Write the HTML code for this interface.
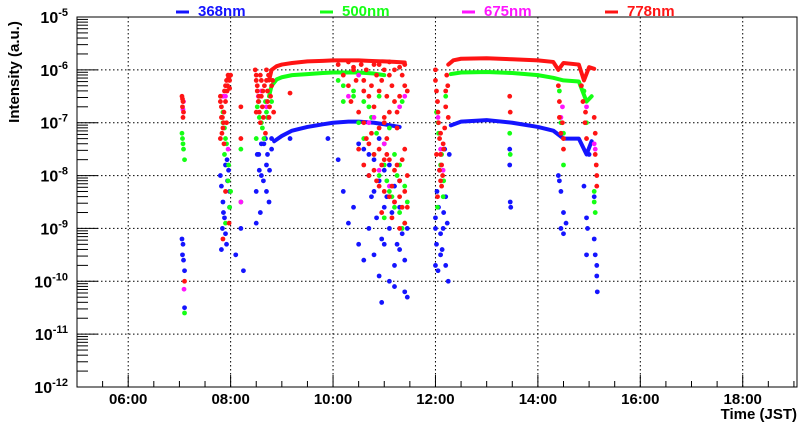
<!DOCTYPE html>
<html><head><meta charset="utf-8"><style>
html,body{margin:0;padding:0;background:#fff;}
svg{display:block;font-family:"Liberation Sans",Arial,sans-serif;font-weight:bold;}
</style></head><body>
<svg id="chart" width="800" height="427" viewBox="0 0 800 427" xmlns="http://www.w3.org/2000/svg">
<g id="grid"></g>
<g id="data"></g>
<g id="axes"></g>
<g id="legend"></g>
<text x="0" y="0" transform="translate(19,72) rotate(-90)" text-anchor="middle" font-size="15">Intensity (a.u.)</text>
<text x="797" y="419" text-anchor="end" font-size="15">Time (JST)</text>
</svg>
<script>
// x tick labels (hours) and y decades
const xTickHours=[6,8,10,12,14,16,18];
const xTickLabels=["06:00","08:00","10:00","12:00","14:00","16:00","18:00"];
const yDecades=[-12,-11,-10,-9,-8,-7,-6,-5];
// Continuous envelope curves (time in hours, log10 intensity)
const redCurveT1=[8.75,8.8,8.9,9.0,9.2,9.5,9.8,10.0,10.3,10.5,10.7,11.0,11.2,11.4];
const redCurveV1=[-6.2,-6.0,-5.93,-5.9,-5.87,-5.84,-5.83,-5.82,-5.82,-5.82,-5.83,-5.84,-5.85,-5.86];
const greenCurveT1=[8.75,8.8,8.9,9.0,9.2,9.5,9.8,10.0,10.3,10.5,10.8,11.0];
const greenCurveV1=[-6.5,-6.3,-6.18,-6.14,-6.1,-6.08,-6.06,-6.05,-6.05,-6.05,-6.07,-6.1];
const blueCurveT1=[8.85,9.0,9.2,9.5,9.8,10.0,10.3,10.5,10.8,11.0,11.3];
const blueCurveV1=[-7.35,-7.25,-7.15,-7.08,-7.03,-7.0,-6.98,-6.98,-7.0,-7.03,-7.08];
const redCurveT2=[12.25,12.35,12.5,13.0,13.5,14.0,14.3,14.4,14.5,14.8,14.9,15.0,15.1];
const redCurveV2=[-5.9,-5.82,-5.79,-5.78,-5.8,-5.82,-5.85,-6.0,-5.87,-5.9,-6.2,-5.95,-5.98];
const greenCurveT2=[12.3,12.5,13.0,13.5,14.0,14.3,14.5,14.8,14.95,15.05];
const greenCurveV2=[-6.08,-6.05,-6.04,-6.06,-6.1,-6.15,-6.2,-6.22,-6.6,-6.5];
const blueCurveT2=[12.3,12.5,13.0,13.5,14.0,14.3,14.5,14.8,14.95,15.05];
const blueCurveV2=[-7.05,-6.98,-6.95,-7.0,-7.08,-7.15,-7.3,-7.3,-7.6,-7.35];
// Scatter points
const redT=[7.05,7.07,7.06,7.08,7.07,7.06,7.1,7.8,7.82,7.85,7.8,7.9,7.95,7.93,7.98,7.87,7.92,7.9,7.85,7.97,8.2,8.2,8.5,8.52,8.55,8.5,8.58,8.6,8.63,8.7,8.72,8.75,8.8,8.68,9.16,10.1,10.2,10.3,10.35,10.4,10.5,10.6,10.7,10.8,10.9,11.0,11.1,11.2,11.3,11.4,10.5,10.6,10.7,10.8,10.9,11.0,11.1,11.2,11.3,11.4,11.35,10.95,11.15,10.75,11.05,11.25,10.65,11.45,12.0,12.05,12.1,12.02,12.15,12.2,12.08,12.25,12.12,13.45,13.46,14.42,14.45,14.5,14.93,14.95,15.1,15.12,15.15];
const redV=[-6.5,-6.6,-6.7,-6.8,-6.9,-6.55,-10.0,-6.6,-6.9,-7.1,-7.3,-6.3,-6.1,-6.4,-6.2,-6.8,-7.0,-8.3,-9.2,-8.9,-6.7,-7.3,-6.1,-6.3,-6.5,-6.8,-7.0,-6.2,-6.4,-6.0,-6.6,-6.9,-6.3,-7.2,-6.44,-5.9,-6.1,-6.3,-6.6,-5.95,-6.8,-6.2,-6.5,-5.9,-6.4,-6.9,-6.1,-6.6,-5.95,-6.3,-7.5,-7.8,-8.0,-7.6,-8.2,-7.7,-8.4,-7.9,-8.1,-7.5,-8.6,-8.7,-8.8,-7.2,-7.3,-7.1,-7.3,-8.0,-6.2,-6.8,-7.2,-7.6,-7.4,-6.4,-7.9,-6.9,-8.2,-6.5,-6.8,-6.6,-7.2,-7.5,-6.8,-7.3,-6.9,-7.6,-8.0];
const redT2=[7.8,7.82,7.84,7.86,7.88,7.9,7.92,7.94,7.96,7.98,8.0,7.83,7.87,8.48,8.5,8.52,8.54,8.56,8.58,8.6,8.62,8.64,8.66,8.7,8.72,8.74,8.76,8.78,8.82,8.84,10.3,10.4,10.45,10.55,10.6,10.65,10.75,10.8,10.85,10.9,10.95,11.0,11.05,11.1,11.15,11.2,11.25,11.3,11.35,11.4,11.45,10.6,10.7,10.8,10.85,10.9,10.95,11.0,11.05,11.1,11.15,11.2,11.25,11.3,11.35,11.4,11.45,11.0,11.1,10.9,11.3,11.4,12.0,12.02,12.04,12.06,12.08,12.1,12.12,12.14,12.16,12.18,12.2,12.22,12.24,12.04,12.1,14.4,14.42,14.48,14.5,14.85,14.88,14.92,15.12,15.15,15.14];
const redV2=[-6.5,-6.7,-6.9,-7.0,-6.4,-6.6,-6.2,-6.3,-6.15,-6.35,-6.1,-7.2,-7.4,-6.0,-6.2,-6.4,-6.6,-6.8,-6.1,-6.5,-6.7,-6.9,-6.3,-6.2,-6.4,-6.1,-6.7,-6.5,-6.2,-6.8,-5.85,-6.0,-6.2,-5.9,-6.4,-6.0,-6.3,-6.7,-6.1,-5.9,-6.2,-6.0,-6.5,-5.85,-6.3,-6.0,-6.8,-6.5,-6.1,-5.9,-6.4,-7.0,-7.4,-7.9,-8.1,-7.5,-7.8,-8.3,-7.6,-7.7,-8.2,-8.5,-7.8,-8.4,-7.7,-8.3,-8.6,-7.0,-6.8,-7.1,-9.0,-8.9,-6.0,-6.4,-6.6,-7.0,-7.3,-7.6,-7.8,-8.0,-7.5,-7.1,-6.7,-6.1,-6.3,-8.4,-8.1,-6.3,-6.9,-7.0,-7.3,-6.3,-6.6,-7.0,-7.2,-8.2,-7.8];
const greenT=[7.05,7.06,7.07,7.08,7.1,7.1,7.85,7.9,7.88,7.95,7.98,8.2,8.2,8.55,8.6,8.65,8.7,8.8,10.1,10.2,10.4,10.5,10.6,10.7,10.8,10.9,11.0,11.1,11.2,11.3,11.4,11.35,11.0,12.05,12.1,12.15,12.2,13.45,13.46,14.45,14.5,15.1,15.12];
const greenV=[-7.2,-7.3,-7.4,-7.5,-7.7,-10.6,-7.0,-7.3,-7.6,-8.1,-8.6,-7.5,-8.5,-6.6,-7.0,-7.3,-6.8,-6.6,-6.2,-6.6,-6.4,-7.0,-7.3,-6.7,-7.6,-8.0,-7.4,-8.3,-8.6,-7.8,-8.9,-9.0,-8.8,-7.0,-7.8,-8.4,-6.5,-7.2,-7.6,-7.0,-7.8,-8.5,-8.7];
const greenT2=[7.85,7.88,7.92,7.96,8.0,7.9,8.52,8.56,8.62,8.68,8.72,8.76,8.5,10.2,10.4,10.6,10.75,10.85,10.9,11.0,11.05,11.1,11.15,11.2,11.25,11.3,11.35,11.4,11.45,12.02,12.06,12.12,12.16,12.04,14.42,14.5,14.9,14.95,15.1];
const greenV2=[-6.8,-7.1,-7.4,-7.8,-8.3,-8.9,-6.7,-6.9,-7.1,-6.6,-6.9,-6.4,-7.3,-6.3,-6.5,-6.6,-6.9,-7.2,-6.5,-7.8,-8.1,-7.1,-8.4,-7.6,-8.0,-8.7,-6.6,-8.2,-8.5,-6.8,-7.2,-7.6,-8.1,-8.6,-6.4,-7.2,-6.4,-7.0,-8.3];
const magentaT=[7.07,7.09,7.9,7.95,8.2,8.6,10.3,10.7,10.9,11.2,11.4,12.1,14.45,15.1,7.08,7.85,8.54,8.7,10.5,10.8,11.0,11.1,11.3,12.05,12.15,14.48,14.95,15.12];
const magentaV=[-6.75,-10.15,-6.5,-7.5,-8.5,-6.4,-6.5,-7.0,-7.9,-8.5,-6.5,-7.5,-6.9,-7.4,-6.6,-6.5,-6.5,-6.7,-6.1,-6.9,-7.4,-8.2,-6.7,-6.9,-7.9,-6.7,-6.7,-7.5];
const blueT=[7.05,7.07,7.06,7.08,7.1,7.1,7.8,7.85,7.88,7.9,7.93,7.96,7.82,7.98,8.2,8.25,8.1,8.55,8.6,8.5,8.65,8.7,8.75,8.8,8.58,9.16,9.9,10.1,10.2,10.3,10.4,10.5,10.6,10.7,10.8,10.9,11.0,11.1,11.2,11.3,11.4,11.45,10.5,10.7,10.9,11.1,11.3,10.8,11.0,12.0,12.02,12.05,12.1,12.15,12.2,12.25,12.08,12.18,13.45,13.45,13.46,13.47,14.4,14.45,14.5,14.55,14.9,14.95,15.0,15.1,15.12,15.15];
const blueV=[-9.2,-9.3,-9.5,-9.6,-9.8,-10.5,-8.0,-8.5,-8.8,-9.1,-7.7,-7.9,-9.4,-8.3,-9.0,-9.8,-9.5,-7.6,-8.0,-8.3,-7.4,-7.8,-8.5,-7.5,-8.7,-7.3,-7.3,-7.7,-8.3,-8.9,-8.6,-9.3,-9.6,-9.0,-9.5,-9.9,-9.3,-10.0,-9.7,-9.4,-10.2,-10.3,-7.4,-7.6,-7.3,-7.8,-8.1,-8.3,-8.6,-8.8,-9.3,-9.8,-9.5,-9.0,-8.4,-10.0,-7.9,-7.5,-7.5,-7.8,-8.5,-8.6,-8.0,-8.3,-8.7,-8.9,-8.2,-8.8,-7.6,-9.2,-9.5,-9.7];
const blueT2=[7.82,7.86,7.9,7.94,7.98,7.84,7.92,8.52,8.56,8.6,8.64,8.68,8.72,8.76,8.8,8.5,8.7,10.6,10.7,10.75,10.8,10.85,10.9,10.95,11.0,11.05,11.1,11.15,11.2,11.25,11.3,11.35,11.4,11.45,10.95,11.2,12.0,12.03,12.06,12.1,12.13,12.16,12.2,12.23,12.27,12.0,14.42,14.45,14.5,14.95,14.97,15.1,15.15,15.16];
const blueV2=[-8.2,-8.7,-7.8,-8.1,-8.6,-9.0,-9.3,-7.6,-7.9,-7.4,-8.1,-7.3,-7.6,-7.9,-7.3,-8.9,-8.3,-7.5,-8.0,-8.4,-7.7,-8.8,-8.1,-9.2,-7.9,-8.4,-9.0,-8.7,-8.2,-9.3,-8.6,-9.1,-9.6,-9.0,-10.4,-10.1,-9.0,-8.3,-8.6,-9.1,-9.4,-8.7,-9.7,-8.9,-7.6,-9.7,-8.1,-9.0,-9.1,-9.5,-9.0,-8.4,-9.9,-10.2];
const seriesNames=["368nm","500nm","675nm","778nm"];

const NS="http://www.w3.org/2000/svg";
const L=77,R=797,T=17,B=387,X0=5,X1=19.06,Y0=-12,Y1=-5;
function xs(t){return L+(t-X0)/(X1-X0)*(R-L);}
function ys(v){return B-(v-Y0)/(Y1-Y0)*(B-T);}
function mk(tag,attrs,parent){const e=document.createElementNS(NS,tag);for(const k in attrs)e.setAttribute(k,attrs[k]);parent.appendChild(e);return e;}
const grid=document.getElementById('grid'),axes=document.getElementById('axes'),data=document.getElementById('data'),legend=document.getElementById('legend');

xTickHours.forEach((h,i)=>{
  const g=mk('line',{x1:xs(h),x2:xs(h),y1:T,y2:B,stroke:'#000','stroke-width':1,'stroke-dasharray':'1.5,2.5'},grid);
  
  
  const lb=mk('text',{x:xs(h),y:404,'text-anchor':'middle','font-size':15},axes);
  lb.textContent=xTickLabels[i];
  
  
});
for(let h=X0;h<=19;h+=0.5){
  const major=xTickHours.includes(h);
  mk('line',{x1:xs(h),x2:xs(h),y1:B,y2:B-(major?12:6),stroke:'#000','stroke-width':1},axes);
}
yDecades.forEach(d=>{
  if(d>Y0&&d<Y1){
    const g=mk('line',{x1:L,x2:R,y1:ys(d),y2:ys(d),stroke:'#000','stroke-width':1,'stroke-dasharray':'1.5,2.5'},grid);
    
    
  }
  mk('line',{x1:L,x2:L+21,y1:ys(d),y2:ys(d),stroke:'#000','stroke-width':1},axes);
  if(d<Y1){for(let m=2;m<=9;m++){const yy=ys(d+Math.log10(m));mk('line',{x1:L,x2:L+11,y1:yy,y2:yy,stroke:'#000','stroke-width':1},axes);}}
  const lb=mk('text',{x:68,y:ys(d)+6,'text-anchor':'end','font-size':16},axes);
  lb.innerHTML='10<tspan dy="-7" font-size="11">'+d+'</tspan>';
  
  
});
const fr=mk('rect',{x:L,y:T,width:R-L,height:B-T,fill:'none',stroke:'#000','stroke-width':1},axes);



const BLUE='#1414ff',GREEN='#14ff14',MAG='#ff14ff',RED='#ff1414';
function curve(tA,vA,col,name){
  const p=mk('polyline',{points:tA.map((t,i)=>xs(t)+','+ys(vA[i])).join(' '),fill:'none',stroke:col,'stroke-width':4,'stroke-linejoin':'round','stroke-linecap':'round'},data);
  
  
}
function dots(tA,vA,col,name){
  tA.forEach((t,i)=>{
    const c=mk('circle',{cx:xs(t),cy:ys(vA[i]),r:2.4,fill:col},data);
    
    
  });
}
dots(blueT,blueV,BLUE,'point-368nm');
dots(blueT2,blueV2,BLUE,'point-368nm');
curve(blueCurveT1,blueCurveV1,BLUE,'curve-368nm-am');
curve(blueCurveT2,blueCurveV2,BLUE,'curve-368nm-pm');
dots(greenT,greenV,GREEN,'point-500nm');
dots(greenT2,greenV2,GREEN,'point-500nm');
curve(greenCurveT1,greenCurveV1,GREEN,'curve-500nm-am');
curve(greenCurveT2,greenCurveV2,GREEN,'curve-500nm-pm');
dots(magentaT,magentaV,MAG,'point-675nm');
dots(redT,redV,RED,'point-778nm');
dots(redT2,redV2,RED,'point-778nm');
curve(redCurveT1,redCurveV1,RED,'curve-778nm-am');
curve(redCurveT2,redCurveV2,RED,'curve-778nm-pm');

const legX=[176,320,462,605],legC=[BLUE,GREEN,MAG,RED];
seriesNames.forEach((n,i)=>{
  const g=mk('g',{},legend);
  
  
  mk('line',{x1:legX[i],x2:legX[i]+13,y1:12,y2:12,stroke:legC[i],'stroke-width':3},g);
  const t=mk('text',{x:legX[i]+22,y:16,fill:legC[i],'font-size':15},g);
  t.textContent=n;
});
</script>
</body></html>
